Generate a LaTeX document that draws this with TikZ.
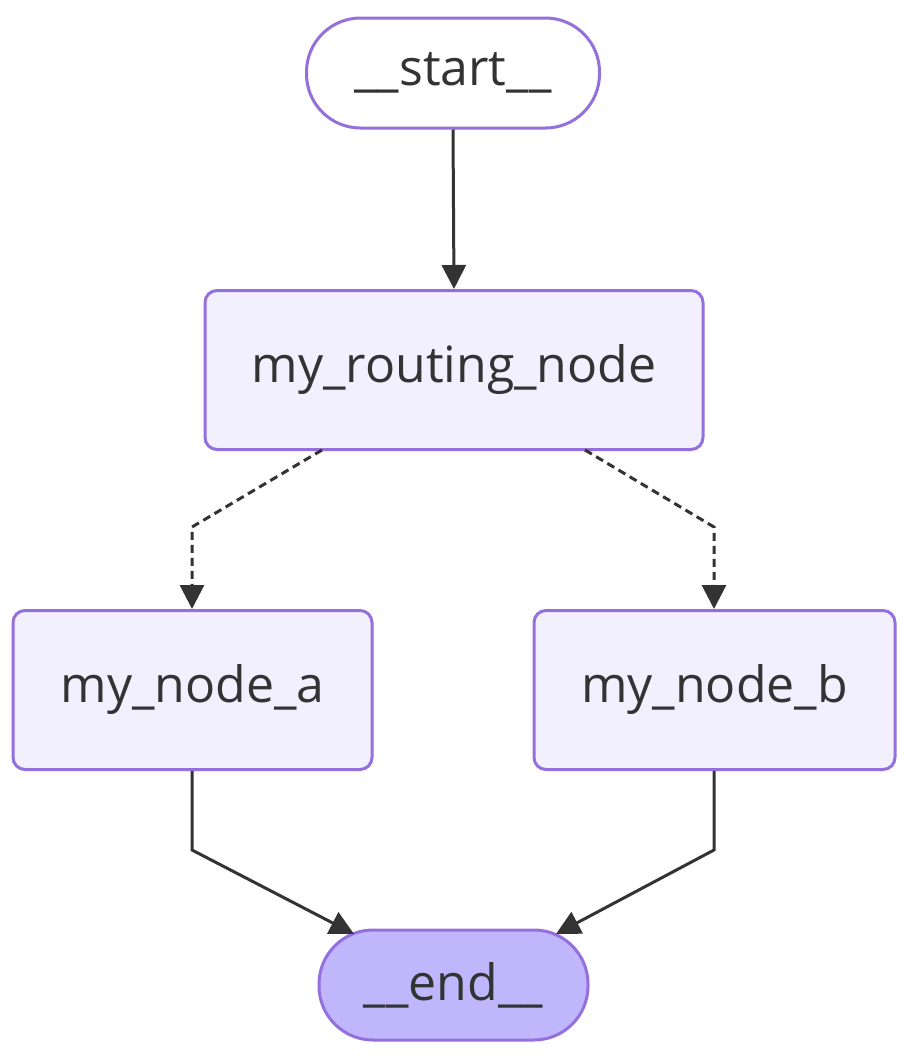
\documentclass[tikz,border=0pt]{standalone}
\usepackage{fontspec}
\setmainfont{Open Sans}
\usetikzlibrary{arrows.meta,calc}
\definecolor{txt}{HTML}{333333}
\definecolor{edge}{HTML}{9370DB}
\definecolor{boxfill}{HTML}{F2F0FF}
\definecolor{endfill}{HTML}{BFB6FC}
\tikzset{
  gbox/.style={draw=edge, line width=3pt, fill=boxfill, rounded corners=12pt,
    text=txt, font=\fontsize{50}{60}\selectfont, inner sep=0pt},
  pill/.style={draw=edge, line width=3pt, rounded corners=54pt,
    text=txt, font=\fontsize{50}{60}\selectfont, inner sep=0pt,
    minimum height=110pt},
  conn/.style={draw=txt, line width=3pt, -{Triangle[length=24pt,width=24pt]}},
  dconn/.style={conn, dash pattern=on 8pt off 5pt},
}
\begin{document}
\begin{tikzpicture}[x=1pt,y=-1pt]
\useasboundingbox (0,0) rectangle (914,1058);
\node[pill, fill=white, minimum width=293pt] (start) at (453,73) {\_\_start\_\_};
\node[gbox, minimum width=498pt, minimum height=159pt] (route) at (454,370) {my\_routing\_node};
\node[gbox, minimum width=359pt, minimum height=159pt] (a) at (192.5,690) {my\_node\_a};
\node[gbox, minimum width=361pt, minimum height=159pt] (b) at (714.5,690) {my\_node\_b};
\node[pill, fill=endfill, minimum width=269pt] (end) at (453.5,985) {\_\_end\_\_};
\coordinate (ra) at (322,450);
\coordinate (rb) at (585,450);
\coordinate (ka) at (192,527);
\coordinate (kb) at (714,527);
\coordinate (la) at (192,850);
\coordinate (lb) at (714,850);
\coordinate (ea) at (354,934);
\coordinate (eb) at (556,934);
\draw[conn] (start.south) -- (route.north);
\draw[dconn] (ra) -- (ka) -- (ka |- a.north);
\draw[dconn] (rb) -- (kb) -- (kb |- b.north);
\draw[conn] (a.south -| la) -- (la) -- (ea);
\draw[conn] (b.south -| lb) -- (lb) -- (eb);
\end{tikzpicture}
\end{document}
